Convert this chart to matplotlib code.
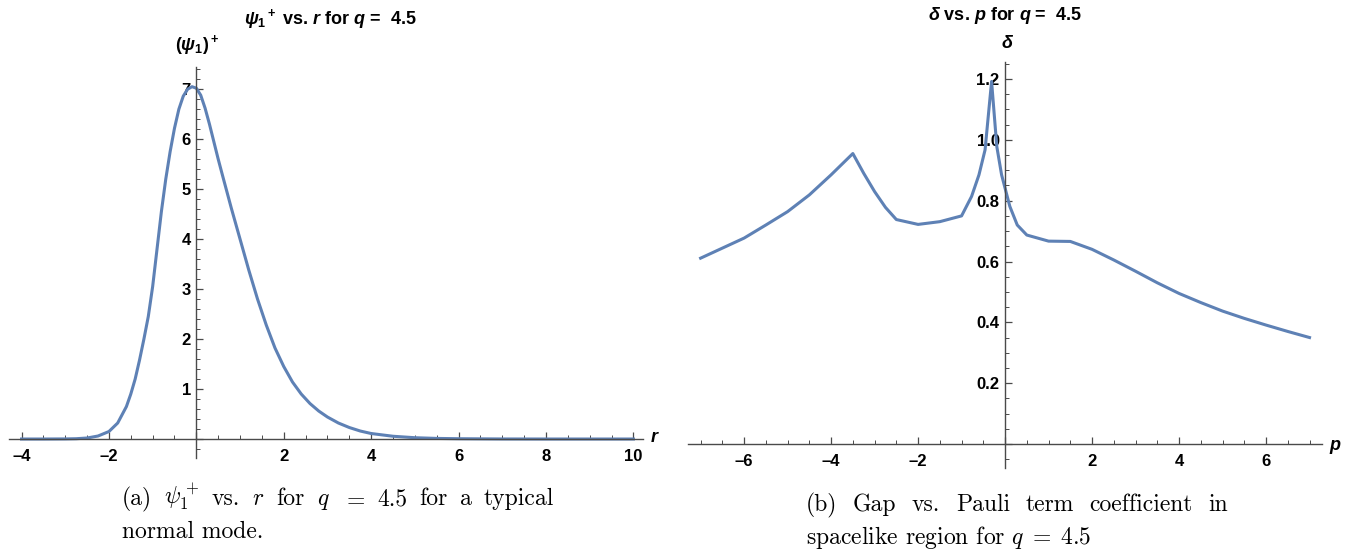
import matplotlib
matplotlib.use('Agg')
import matplotlib.pyplot as plt
from matplotlib.ticker import MultipleLocator, FuncFormatter

# ---------------- data ----------------
r_vals = [-4.0, -3.5, -3.0, -2.75, -2.5, -2.25, -2.0, -1.8, -1.6, -1.5, -1.4, -1.3,
          -1.2, -1.1, -1.0, -0.9, -0.8, -0.7, -0.6, -0.5, -0.4, -0.3, -0.2, -0.1,
          0.0, 0.1, 0.2, 0.3, 0.4, 0.5, 0.6, 0.8, 1.0, 1.2, 1.4, 1.6, 1.8, 2.0,
          2.2, 2.4, 2.6, 2.8, 3.0, 3.25, 3.5, 3.75, 4.0, 4.5, 5.0, 5.5, 6.0, 7.0,
          8.0, 9.0, 10.0]
psi_vals = [0.0, 0.0, 0.002, 0.006, 0.02, 0.06, 0.15, 0.32, 0.65, 0.9, 1.2, 1.58,
            2.0, 2.45, 3.05, 3.8, 4.55, 5.2, 5.75, 6.22, 6.6, 6.86, 7.0, 7.05,
            7.02, 6.88, 6.62, 6.3, 5.95, 5.6, 5.27, 4.62, 4.0, 3.38, 2.8, 2.28, 1.82, 1.45,
            1.14, 0.9, 0.71, 0.56, 0.44, 0.32, 0.23, 0.16, 0.11, 0.055, 0.026, 0.012, 0.006, 0.001,
            0.0, 0.0, 0.0]

p_vals = [-7.0, -6.5, -6.0, -5.5, -5.0, -4.5, -4.0, -3.5, -3.25, -3.0, -2.75, -2.5,
          -2.0, -1.5, -1.0, -0.77, -0.6, -0.46, -0.31, -0.19, -0.08, 0.11, 0.28, 0.5,
          1.0, 1.5, 2.0, 2.5, 3.0, 3.5, 4.0, 4.5, 5.0, 5.5, 6.0, 6.5, 7.0]
delta_vals = [0.611, 0.644, 0.677, 0.720, 0.764, 0.819, 0.885, 0.955, 0.89, 0.83, 0.778, 0.738,
              0.722, 0.731, 0.750, 0.814, 0.885, 0.967, 1.192, 0.978, 0.885, 0.781, 0.720, 0.687,
              0.667, 0.666, 0.640, 0.605, 0.568, 0.530, 0.495, 0.465, 0.437, 0.413, 0.391, 0.370, 0.350]

r_ticks = [-4, -2, 2, 4, 6, 8, 10]
psi_ticks = [1, 2, 3, 4, 5, 6, 7]
p_ticks = [-6, -4, -2, 2, 4, 6]
delta_ticks = [0.2, 0.4, 0.6, 0.8, 1.0, 1.2]

# ---------------- style ----------------
plt.rcParams['font.family'] = ['Liberation Sans', 'DejaVu Sans']
plt.rcParams['font.weight'] = 'bold'
plt.rcParams['mathtext.fontset'] = 'custom'
plt.rcParams['mathtext.rm'] = 'Liberation Sans:bold'
plt.rcParams['mathtext.it'] = 'Liberation Sans:italic:bold'
plt.rcParams['mathtext.bf'] = 'Liberation Sans:bold'

LINE = '#5e81b5'
AXC = '#4a4a4a'
W, H = 1363, 552
fig = plt.figure(figsize=(W / 100, H / 100), dpi=100)


def px_axes(x0, x1, ytop, ybot):
    return fig.add_axes([x0 / W, 1 - ybot / H, (x1 - x0) / W, (ybot - ytop) / H])


def style(ax, xmaj, xmin, ymaj, ymin, xfmt, yfmt, xticks, yticks):
    for s in ('top', 'right'):
        ax.spines[s].set_visible(False)
    for s in ('left', 'bottom'):
        ax.spines[s].set_position(('data', 0))
        ax.spines[s].set_color(AXC)
        ax.spines[s].set_linewidth(1.0)
    ax.patch.set_alpha(0)
    ax.xaxis.set_major_locator(MultipleLocator(xmaj))
    ax.xaxis.set_minor_locator(MultipleLocator(xmin))
    ax.yaxis.set_major_locator(MultipleLocator(ymaj))
    ax.yaxis.set_minor_locator(MultipleLocator(ymin))

    def fx(v, pos):
        for t in xticks:
            if abs(v - t) < 1e-6:
                return xfmt(t)
        return ''

    def fy(v, pos):
        for t in yticks:
            if abs(v - t) < 1e-6:
                return yfmt(t)
        return ''
    ax.xaxis.set_major_formatter(FuncFormatter(fx))
    ax.yaxis.set_major_formatter(FuncFormatter(fy))
    ax.tick_params(which='both', direction='in', color=AXC, labelcolor='black',
                   labelsize=12)
    ax.tick_params(which='major', length=5, width=0.9)
    ax.tick_params(which='minor', length=3, width=0.7)
    ax.tick_params(axis='x', which='major', pad=7)
    ax.tick_params(axis='y', which='major', pad=4)


def intfmt(t):
    return ('\u2013' if t < 0 else '') + str(abs(int(t)))


# left panel
ax1 = px_axes(9.3, 643, 66.7, 458)
ax1.plot(r_vals, psi_vals, color=LINE, lw=2.2, solid_joinstyle='round')
ax1.set_xlim(-4.28, 10.22)
ax1.set_ylim(-0.38, 7.45)
style(ax1, 2, 0.5, 1, 0.2, intfmt, lambda t: str(int(t)), r_ticks, psi_ticks)

# right panel
ax2 = px_axes(688, 1321.7, 62, 467.7)
ax2.plot(p_vals, delta_vals, color=LINE, lw=2.2, solid_joinstyle='round')
ax2.set_xlim(-7.29, 7.28)
ax2.set_ylim(-0.078, 1.256)
style(ax2, 2, 0.5, 0.2, 0.05, intfmt, lambda t: f'{t:.1f}', p_ticks, delta_ticks)


def ftext(x, y, s, **kw):
    return fig.text(x / W, 1 - y / H, s, **kw)


# titles and axis labels
ftext(330, 19, r'$\psi_1{}^+$ vs. $r$ for $q$ =  4.5', ha='center', va='center', fontsize=13)
ftext(197, 45, r'$(\psi_1)^+$', ha='center', va='center', fontsize=13)
ftext(655, 438, r'$r$', ha='center', va='center', fontsize=13)
ftext(1005, 15, r'$\delta$ vs. $p$ for $q$ =  4.5', ha='center', va='center', fontsize=13)
ftext(1008, 43, r'$\delta$', ha='center', va='center', fontsize=13)
ftext(1335, 447, r'$p$', ha='center', va='center', fontsize=13)

# captions (LaTeX-like)
CAP = dict(fontsize=17, fontfamily='cmr10', fontweight='normal', math_fontfamily='cm',
           va='baseline', ha='left')
renderer = fig.canvas.get_renderer()


def justify(words, x0, x1, y):
    texts = [ftext(x0, y, w, **CAP) for w in words]
    widths = [t.get_window_extent(renderer).width for t in texts]
    gap = (x1 - x0 - sum(widths)) / (len(words) - 1)
    x = x0
    for t, wd in zip(texts, widths):
        t.set_x(x / W)
        x += wd + gap


justify(['(a)', r'$\psi_1^+$', 'vs.', r'$r$', 'for', r'$q$', r'$=$', '4.5', 'for', 'a', 'typical'],
        122, 554, 505)
ftext(122, 538, 'normal mode.', **CAP)
justify(['(b)', 'Gap', 'vs.', 'Pauli', 'term', 'coefficient', 'in'], 806, 1228, 511)
ftext(806, 544, r'spacelike region for $q\;=\;4.5$', **CAP)

fig.savefig('out.png', dpi=100)
